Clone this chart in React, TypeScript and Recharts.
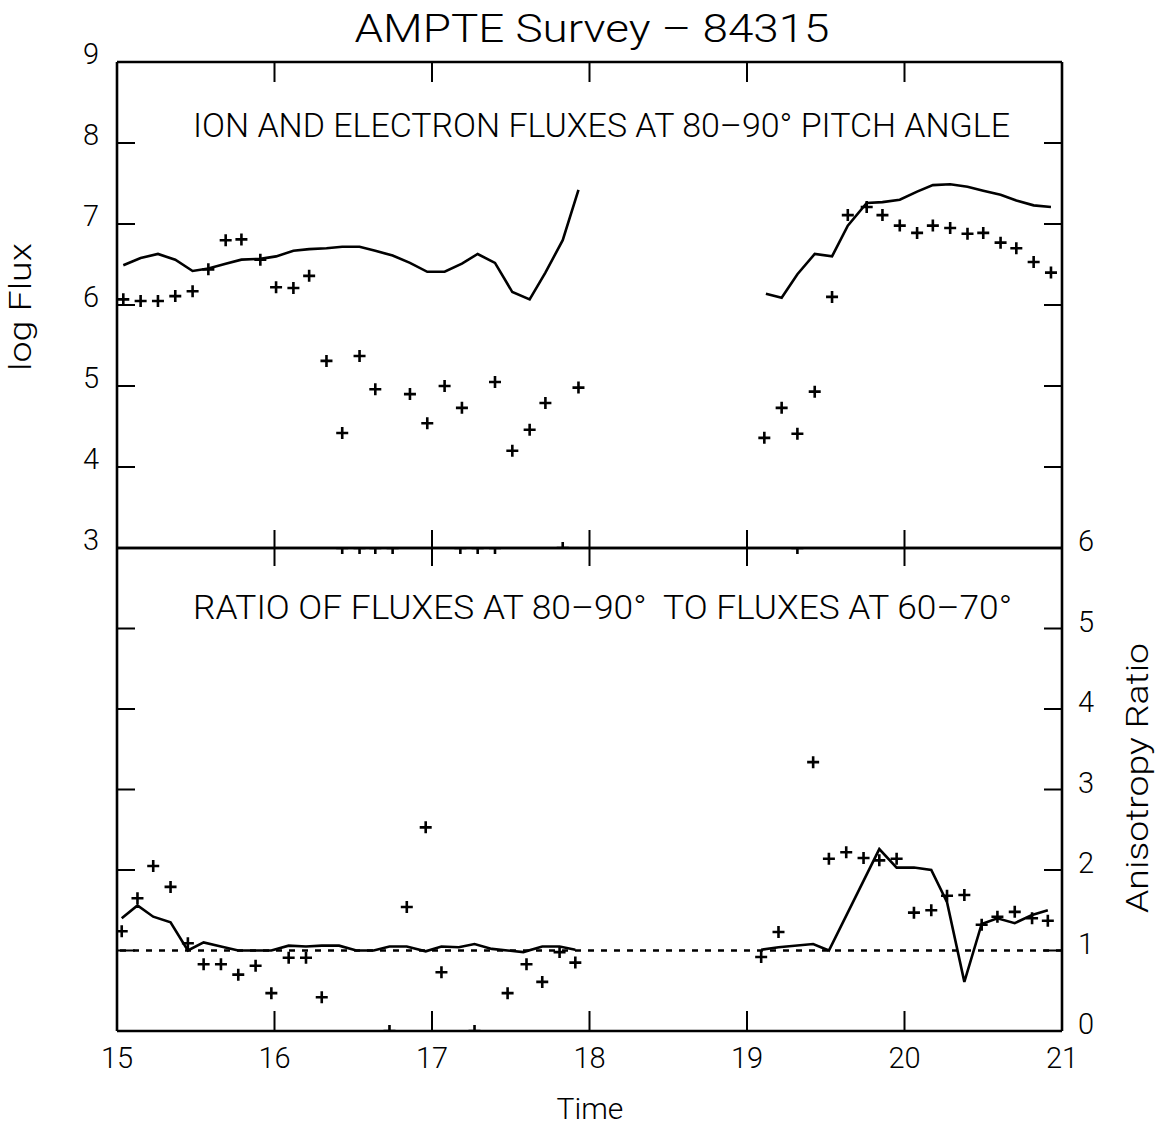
import React from 'react';
import { ComposedChart, Line, Scatter, XAxis, YAxis, ReferenceLine } from 'recharts';

// ---------- data ----------
const timeTicks = [15, 16, 17, 18, 19, 20, 21];
const fluxTicks = [3, 4, 5, 6, 7, 8, 9];
const ratioTicks = [0, 1, 2, 3, 4, 5, 6];

// upper panel: ion flux line (first pass)
const ionTimesA = [15.04, 15.15, 15.26, 15.37, 15.48, 15.58, 15.69, 15.79, 15.91, 16.01, 16.12, 16.22, 16.33, 16.43, 16.54, 16.64, 16.75, 16.86, 16.97, 17.08, 17.19, 17.29, 17.40, 17.51, 17.62, 17.72, 17.83, 17.93];
const ionFluxA = [6.49, 6.58, 6.63, 6.56, 6.42, 6.45, 6.51, 6.56, 6.57, 6.60, 6.67, 6.69, 6.70, 6.72, 6.72, 6.67, 6.61, 6.52, 6.41, 6.41, 6.51, 6.63, 6.52, 6.16, 6.07, 6.40, 6.80, 7.42];
// upper panel: ion flux line (second pass)
const ionTimesB = [19.12, 19.22, 19.32, 19.43, 19.54, 19.64, 19.76, 19.86, 19.97, 20.08, 20.18, 20.29, 20.40, 20.50, 20.61, 20.71, 20.82, 20.93];
const ionFluxB = [6.14, 6.09, 6.38, 6.63, 6.60, 6.98, 7.26, 7.27, 7.30, 7.40, 7.48, 7.49, 7.46, 7.41, 7.36, 7.29, 7.23, 7.21];

// upper panel: electron flux crosses
const eleTimesA = [15.04, 15.15, 15.26, 15.37, 15.48, 15.58, 15.69, 15.79, 15.91, 16.01, 16.12, 16.22, 16.33, 16.43, 16.54, 16.64, 16.86, 16.97, 17.08, 17.19, 17.40, 17.51, 17.62, 17.72, 17.93];
const eleFluxA = [6.07, 6.05, 6.05, 6.11, 6.17, 6.44, 6.80, 6.81, 6.56, 6.22, 6.21, 6.36, 5.31, 4.42, 5.37, 4.96, 4.90, 4.54, 5.00, 4.73, 5.05, 4.20, 4.46, 4.79, 4.98];
const eleTimesB = [19.11, 19.22, 19.32, 19.43, 19.54, 19.64, 19.76, 19.86, 19.97, 20.08, 20.18, 20.29, 20.40, 20.50, 20.61, 20.71, 20.82, 20.93];
const eleFluxB = [4.36, 4.73, 4.41, 4.93, 6.10, 7.11, 7.21, 7.11, 6.98, 6.89, 6.98, 6.95, 6.88, 6.89, 6.77, 6.70, 6.53, 6.40];
// upper panel: off-scale (low) electron values drawn on the bottom frame
const eleLowTimes = [17.83];
const eleLowFlux = [3];

// lower panel: anisotropy ratio line
const ratioLineTimesA = [15.03, 15.13, 15.23, 15.34, 15.45, 15.55, 15.66, 15.77, 15.88, 15.98, 16.09, 16.20, 16.30, 16.41, 16.52, 16.63, 16.73, 16.84, 16.96, 17.06, 17.17, 17.27, 17.38, 17.48, 17.58, 17.70, 17.81, 17.91];
const ratioLineA = [1.40, 1.56, 1.42, 1.35, 1.00, 1.10, 1.05, 1.00, 1.00, 1.00, 1.06, 1.05, 1.06, 1.06, 1.00, 1.00, 1.05, 1.05, 0.99, 1.05, 1.04, 1.08, 1.02, 1.00, 0.98, 1.05, 1.05, 1.01];
const ratioLineTimesB = [19.09, 19.20, 19.42, 19.52, 19.84, 19.95, 20.06, 20.17, 20.27, 20.38, 20.49, 20.59, 20.70, 20.81, 20.91];
const ratioLineB = [1.01, 1.04, 1.08, 1.00, 2.26, 2.03, 2.03, 2.00, 1.60, 0.61, 1.33, 1.40, 1.34, 1.44, 1.50];

// lower panel: ratio crosses
const ratioPtTimesA = [15.03, 15.13, 15.23, 15.34, 15.45, 15.55, 15.66, 15.77, 15.88, 15.98, 16.09, 16.20, 16.30, 16.84, 16.96, 17.06, 17.48, 17.60, 17.70, 17.81, 17.91];
const ratioPtA = [1.24, 1.65, 2.05, 1.79, 1.09, 0.83, 0.83, 0.70, 0.81, 0.47, 0.91, 0.91, 0.42, 1.54, 2.53, 0.73, 0.47, 0.83, 0.61, 0.98, 0.85];
const ratioPtTimesB = [19.09, 19.20, 19.42, 19.52, 19.63, 19.74, 19.84, 19.95, 20.06, 20.17, 20.27, 20.38, 20.49, 20.59, 20.70, 20.81, 20.91];
const ratioPtB = [0.92, 1.23, 3.34, 2.14, 2.22, 2.15, 2.12, 2.14, 1.47, 1.50, 1.68, 1.69, 1.32, 1.42, 1.48, 1.40, 1.37];
// lower panel: off-scale values drawn on the frame
const ratioHighTimes = [16.43, 16.54, 16.64, 16.75, 17.18, 17.29, 17.40, 19.32];
const ratioHigh = [6, 6, 6, 6, 6, 6, 6, 6];
const ratioLowTimes = [16.73, 17.27];
const ratioLow = [0, 0];

const zip = (ts: number[], vs: number[]) => ts.map((t, i) => ({ t, v: vs[i] }));

const ionA = zip(ionTimesA, ionFluxA);
const ionB = zip(ionTimesB, ionFluxB);
const eleA = zip(eleTimesA, eleFluxA);
const eleB = zip(eleTimesB, eleFluxB);
const eleLow = zip(eleLowTimes, eleLowFlux);
const rLineA = zip(ratioLineTimesA, ratioLineA);
const rLineB = zip(ratioLineTimesB, ratioLineB);
const rPtA = zip(ratioPtTimesA, ratioPtA);
const rPtB = zip(ratioPtTimesB, ratioPtB);
const rHigh = zip(ratioHighTimes, ratioHigh);
const rLow = zip(ratioLowTimes, ratioLow);

// ---------- styling ----------
const FONT = 'Roboto, "DejaVu Sans", sans-serif';
const INK = '#000';
const AXIS_LINE = { stroke: INK, strokeWidth: 2.6 };
const TICK_LINE = { stroke: INK, strokeWidth: 2 };

const Plus = (props: any) => {
  const { cx, cy } = props;
  if (cx == null || cy == null || isNaN(cx) || isNaN(cy)) return null;
  const s = 6;
  return (
    <path
      d={`M${cx - s},${cy}H${cx + s}M${cx},${cy - s}V${cy + s}`}
      stroke={INK}
      strokeWidth={2.6}
      fill="none"
    />
  );
};

const EmptyTick = () => <g />;

const LeftTick = (p: any) => (
  <text x={p.x} y={p.y - 8} textAnchor="end" dominantBaseline="central" fontFamily={FONT} fontWeight={300} fontSize={29} fill={INK}>
    {p.payload.value}
  </text>
);
const RightTick = (p: any) => (
  <text x={p.x} y={p.y - 7} textAnchor="start" dominantBaseline="central" fontFamily={FONT} fontWeight={300} fontSize={29} fill={INK}>
    {p.payload.value}
  </text>
);
const BottomTick = (p: any) => (
  <text x={p.x} y={p.y} textAnchor="middle" dominantBaseline="central" fontFamily={FONT} fontWeight={300} fontSize={29} fill={INK}>
    {p.payload.value}
  </text>
);

const W = 1161;
const H = 1126;

const timeAxis = (id: string, orientation: 'top' | 'bottom', extra: any) => (
  <XAxis
    xAxisId={id}
    type="number"
    dataKey="t"
    orientation={orientation}
    domain={[15, 21]}
    ticks={timeTicks}
    interval={0}
    allowDataOverflow
    tickLine={TICK_LINE}
    axisLine={AXIS_LINE}
    {...extra}
  />
);

export default function App() {
  return (
    <div style={{ position: 'absolute', left: 0, top: 0, width: W, height: H, background: '#fff' }}>
      {/* upper panel */}
      <div style={{ position: 'absolute', left: 0, top: 0 }}>
        <ComposedChart width={W} height={600} margin={{ top: 42, bottom: 32, left: 0, right: 0 }}>
          {timeAxis('b', 'bottom', { height: 20, tick: EmptyTick, tickSize: -18 })}
          {timeAxis('t', 'top', { height: 20, tick: EmptyTick, tickSize: -20 })}
          <YAxis
            yAxisId="l"
            type="number"
            dataKey="v"
            orientation="left"
            domain={[3, 9]}
            ticks={fluxTicks}
            interval={0}
            allowDataOverflow
            width={117}
            tickSize={-18}
            tickMargin={36}
            tick={LeftTick}
            tickLine={TICK_LINE}
            axisLine={AXIS_LINE}
          />
          <YAxis
            yAxisId="r"
            type="number"
            dataKey="v"
            orientation="right"
            domain={[3, 9]}
            ticks={fluxTicks}
            interval={0}
            allowDataOverflow
            width={99}
            tickSize={-18}
            tick={EmptyTick}
            tickLine={TICK_LINE}
            axisLine={AXIS_LINE}
          />
          <Line data={ionA} dataKey="v" xAxisId="b" yAxisId="l" type="linear" stroke={INK} strokeWidth={2.6} dot={false} isAnimationActive={false} />
          <Line data={ionB} dataKey="v" xAxisId="b" yAxisId="l" type="linear" stroke={INK} strokeWidth={2.6} dot={false} isAnimationActive={false} />
          <Scatter data={eleA} dataKey="v" xAxisId="b" yAxisId="l" shape={Plus} isAnimationActive={false} />
          <Scatter data={eleB} dataKey="v" xAxisId="b" yAxisId="l" shape={Plus} isAnimationActive={false} />
          <Scatter data={eleLow} dataKey="v" xAxisId="b" yAxisId="l" shape={Plus} isAnimationActive={false} />
          {/* anchors so the decorative axes have a series of their own */}
          <Line data={ionA} dataKey="v" xAxisId="t" yAxisId="r" stroke="none" dot={false} activeDot={false} isAnimationActive={false} />
        </ComposedChart>
      </div>

      {/* lower panel */}
      <div style={{ position: 'absolute', left: 0, top: 0 }}>
        <ComposedChart width={W} height={H} margin={{ top: 528, bottom: 15, left: 0, right: 0 }}>
          {timeAxis('b', 'bottom', { height: 80, tick: BottomTick, tickSize: -20, tickMargin: 47 })}
          {timeAxis('t', 'top', { height: 20, tick: EmptyTick, tickSize: -18 })}
          <YAxis
            yAxisId="l"
            type="number"
            dataKey="v"
            orientation="left"
            domain={[0, 6]}
            ticks={ratioTicks}
            interval={0}
            allowDataOverflow
            width={117}
            tickSize={-18}
            tick={EmptyTick}
            tickLine={TICK_LINE}
            axisLine={AXIS_LINE}
          />
          <YAxis
            yAxisId="r"
            type="number"
            dataKey="v"
            orientation="right"
            domain={[0, 6]}
            ticks={ratioTicks}
            interval={0}
            allowDataOverflow
            width={99}
            tickSize={-18}
            tickMargin={34}
            tick={RightTick}
            tickLine={TICK_LINE}
            axisLine={AXIS_LINE}
          />
          <ReferenceLine yAxisId="r" xAxisId="b" y={1} stroke={INK} strokeWidth={2.4} strokeDasharray="6 7" />
          <Line data={rLineA} dataKey="v" xAxisId="b" yAxisId="r" type="linear" stroke={INK} strokeWidth={2.6} dot={false} isAnimationActive={false} />
          <Line data={rLineB} dataKey="v" xAxisId="b" yAxisId="r" type="linear" stroke={INK} strokeWidth={2.6} dot={false} isAnimationActive={false} />
          <Scatter data={rPtA} dataKey="v" xAxisId="b" yAxisId="r" shape={Plus} isAnimationActive={false} />
          <Scatter data={rPtB} dataKey="v" xAxisId="b" yAxisId="r" shape={Plus} isAnimationActive={false} />
          <Scatter data={rHigh} dataKey="v" xAxisId="b" yAxisId="r" shape={Plus} isAnimationActive={false} />
          <Scatter data={rLow} dataKey="v" xAxisId="b" yAxisId="r" shape={Plus} isAnimationActive={false} />
          {/* anchor so the decorative axes have a series of their own */}
          <Line data={rLineA} dataKey="v" xAxisId="t" yAxisId="l" stroke="none" dot={false} activeDot={false} isAnimationActive={false} />
        </ComposedChart>
      </div>

      {/* titles and axis labels */}
      <svg width={W} height={H} style={{ position: 'absolute', left: 0, top: 0, pointerEvents: 'none' }}>
        <text x={592} y={42} textAnchor="middle" fontFamily={FONT} fontWeight={300} fontSize={38} fill={INK} textLength={475} lengthAdjust="spacingAndGlyphs" style={{ whiteSpace: 'pre' }}>
          AMPTE Survey – 84315
        </text>
        <text x={193} y={137} fontFamily={FONT} fontWeight={300} fontSize={33} fill={INK} textLength={817} lengthAdjust="spacingAndGlyphs" style={{ whiteSpace: 'pre' }}>
          ION AND ELECTRON FLUXES AT 80–90° PITCH ANGLE
        </text>
        <text x={193} y={619} fontFamily={FONT} fontWeight={300} fontSize={33} fill={INK} textLength={819} lengthAdjust="spacingAndGlyphs" style={{ whiteSpace: 'pre' }}>
          RATIO OF FLUXES AT 80–90°  TO FLUXES AT 60–70°
        </text>
        <text x={0} y={0} transform="translate(31,307) rotate(-90)" textAnchor="middle" fontFamily={FONT} fontWeight={300} fontSize={31} fill={INK} textLength={128} lengthAdjust="spacingAndGlyphs">
          log Flux
        </text>
        <text x={0} y={0} transform="translate(1148,778) rotate(-90)" textAnchor="middle" fontFamily={FONT} fontWeight={300} fontSize={31} fill={INK} textLength={270} lengthAdjust="spacingAndGlyphs">
          Anisotropy Ratio
        </text>
        <text x={590} y={1119} textAnchor="middle" fontFamily={FONT} fontWeight={300} fontSize={30} fill={INK}>
          Time
        </text>
      </svg>
    </div>
  );
}
